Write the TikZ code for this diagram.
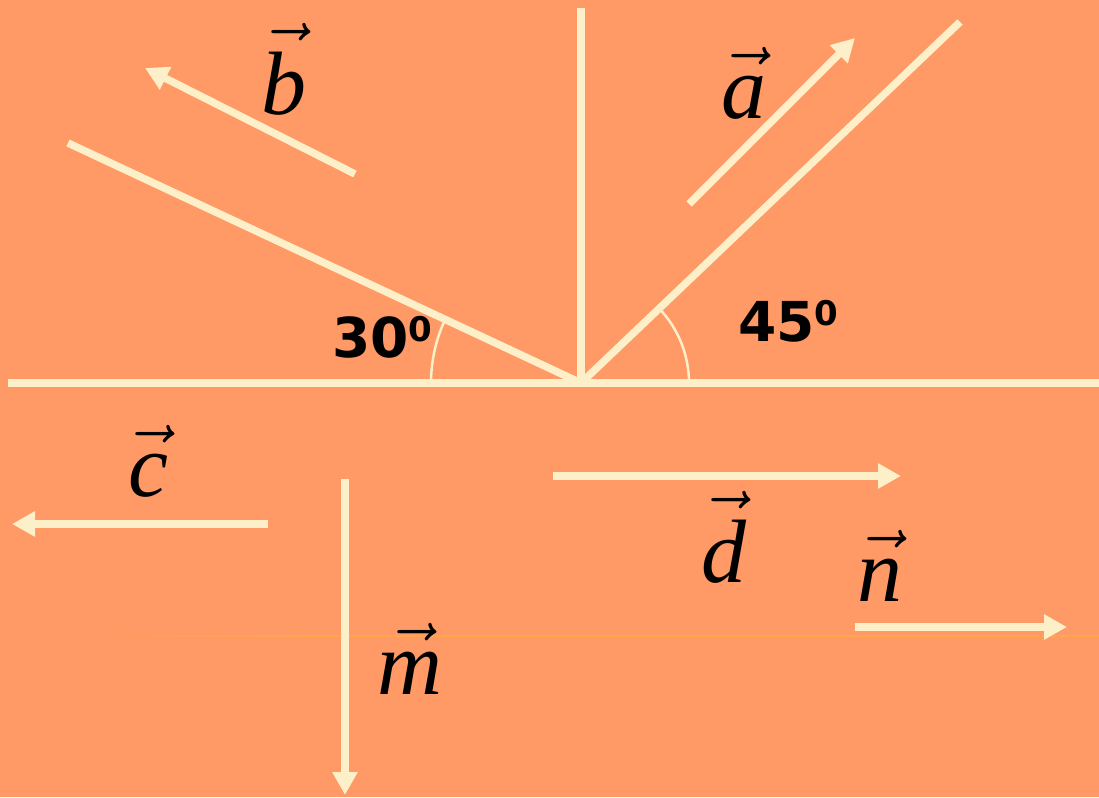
\documentclass[tikz,border=0pt]{standalone}
\usepackage{fix-cm}
\usepackage{fontspec}
\setmainfont{Liberation Serif}
\newfontfamily\anglefont{DejaVu Sans}
\usepackage{tikz}
\usetikzlibrary{arrows.meta}

\definecolor{bgorange}{HTML}{FF9966}
\definecolor{cream}{HTML}{FDF0C9}
\definecolor{faintline}{HTML}{FFA64D}

\newcommand{\vlab}[1]{$\vec{\raisebox{0pt}[\dimexpr\height+4pt\relax]{\itshape #1}}$}
\newcommand{\angtext}[1]{#1\raisebox{16pt}{\fontsize{34}{34}\selectfont 0}}

\begin{document}
\begin{tikzpicture}[
    x=1pt, y=1pt,
    beam/.style={draw=cream, line width=7.5pt},
    vecarrow/.style={beam, -{Triangle[length=23pt,width=24pt]}},
    anglearc/.style={draw=cream, line width=2.5pt},
    veclbl/.style={anchor=base, inner sep=0pt, font=\fontsize{90}{90}\selectfont},
    anglelbl/.style={anchor=base west, inner sep=0pt, font=\anglefont\bfseries\fontsize{55}{55}\selectfont}
]
    \path[use as bounding box, fill=bgorange] (0,0) rectangle (1099,797);

    % faint guide line
    \shade[left color=bgorange, right color=faintline] (80,160.2) rectangle (300,161.8);
    \fill[faintline] (300,160.2) rectangle (1099,161.8);

    % base lines
    \coordinate (O) at (581,414);
    \coordinate (hl) at (8,414);
    \coordinate (hr) at (1099,414);
    \coordinate (vt) at (581,789);
    \coordinate (l30) at (68,654);
    \coordinate (l45) at (960,775);

    \draw[beam] (hl) -- (hr);
    \draw[beam] (O) -- (vt);
    \draw[beam] (l30) -- (O);
    \draw[beam] (O) -- (l45);

    % angles
    \draw[anglearc] ([shift={(-150,0)}]O) arc[start angle=180, end angle=154.9, radius=150];
    \draw[anglearc] ([shift={(108,0)}]O) arc[start angle=0, end angle=43.6, radius=108];
    \node[anglelbl] (ang30) at (332,439) {\angtext{30}};
    \node[anglelbl] (ang45) at (738,455) {\angtext{45}};

    % vectors
    \coordinate (a0) at (689,593);  \coordinate (a1) at (855,759);
    \coordinate (b0) at (355,623);  \coordinate (b1) at (145,729);
    \coordinate (c0) at (268,273);  \coordinate (c1) at (12,273);
    \coordinate (d0) at (553,321);  \coordinate (d1) at (901,321);
    \coordinate (m0) at (345,318);  \coordinate (m1) at (345,2);
    \coordinate (n0) at (855,170);  \coordinate (n1) at (1067,170);

    \draw[vecarrow] (a0) -- (a1);
    \draw[vecarrow] (b0) -- (b1);
    \draw[vecarrow] (c0) -- (c1);
    \draw[vecarrow] (d0) -- (d1);
    \draw[vecarrow] (m0) -- (m1);
    \draw[vecarrow] (n0) -- (n1);

    \node[veclbl] (la) at (744,678) {\vlab{a}};
    \node[veclbl] (lb) at (284,682) {\vlab{b}};
    \node[veclbl] (lc) at (148,300) {\vlab{c}};
    \node[veclbl] (ld) at (724,214) {\vlab{d}};
    \node[veclbl] (ln) at (880,195) {\vlab{n}};
    \node[veclbl] (lm) at (410,102) {\vlab{m}};
\end{tikzpicture}
\end{document}
